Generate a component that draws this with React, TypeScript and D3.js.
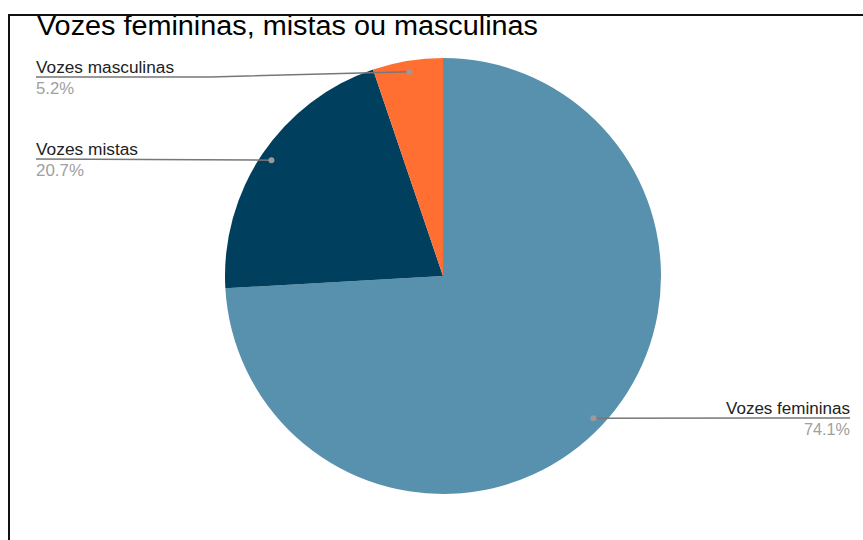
import React from "react";
import * as d3 from "d3";

const categories = ["Vozes femininas", "Vozes mistas", "Vozes masculinas"];
const values = [74.1, 20.7, 5.2];
const percentLabels = ["74.1%", "20.7%", "5.2%"];
const colors = ["#5891ad", "#00405e", "#ff6f31"];
const title = "Vozes femininas, mistas ou masculinas";

const W = 863;
const H = 540;
const cx = 443;
const cy = 276;
const R = 218;

const labelLayout = [
  { side: "right", x: 850, y: 414, lineY: 418, elbow: null as number | null, nameW: 124, pctW: 46 },
  { side: "left", x: 36, y: 155, lineY: 159, elbow: null as number | null, nameW: 102, pctW: 48 },
  { side: "left", x: 36, y: 73, lineY: 77, elbow: 210 as number | null, nameW: 138, pctW: 38 },
];

export default function App() {
  const pie = d3
    .pie<number>()
    .sort(null)
    .value((d) => d)
    .startAngle(0)
    .endAngle(2 * Math.PI);
  const arcs = pie(values);
  const arcGen = d3.arc<d3.PieArcDatum<number>>().innerRadius(0).outerRadius(R);
  const dotArc = d3.arc<d3.PieArcDatum<number>>().innerRadius(207).outerRadius(207);

  const font = "Arial, 'Liberation Sans', sans-serif";

  return (
    <svg
      width={W}
      height={H}
      style={{ position: "absolute", left: 0, top: 0, display: "block", background: "#fff" }}
    >
      <defs>
        <clipPath id="titleClip">
          <rect x={0} y={16} width={W} height={H} />
        </clipPath>
      </defs>
      <rect x={0} y={0} width={W} height={H} fill="#fff" />
      <text
        x={37}
        y={35}
        fontFamily={font}
        fontSize={27}
        fill="#000"
        textLength={501}
        lengthAdjust="spacingAndGlyphs"
        clipPath="url(#titleClip)"
      >
        {title}
      </text>
      <g transform={`translate(${cx},${cy})`}>
        {arcs.map((a, i) => (
          <path key={i} d={arcGen(a) || ""} fill={colors[i]} stroke="none" />
        ))}
      </g>
      {arcs.map((a, i) => {
        const [dx, dy] = dotArc.centroid(a);
        const px = cx + dx;
        const py = cy + dy;
        const L = labelLayout[i];
        let pts: [number, number][];
        if (L.side === "right") {
          pts = [
            [px, py],
            [L.x, L.lineY],
          ];
        } else if (L.elbow != null) {
          pts = [
            [L.x, L.lineY],
            [L.elbow, L.lineY],
            [px, py],
          ];
        } else {
          pts = [
            [L.x, L.lineY],
            [px, py],
          ];
        }
        const anchor = L.side === "right" ? "end" : "start";
        return (
          <g key={"l" + i}>
            <polyline
              points={pts.map((p) => p.join(",")).join(" ")}
              fill="none"
              stroke="#777"
              strokeWidth={1.5}
            />
            <circle cx={px} cy={py} r={3} fill="#9a9a9a" />
            <text
              x={L.x}
              y={L.y}
              textAnchor={anchor}
              fontFamily={font}
              fontSize={16}
              fill="#222"
              textLength={L.nameW}
              lengthAdjust="spacingAndGlyphs"
            >
              {categories[i]}
            </text>
            <text
              x={L.x}
              y={L.y + 21}
              textAnchor={anchor}
              fontFamily={font}
              fontSize={16.5}
              fill="#a0a0a0"
              textLength={L.pctW}
              lengthAdjust="spacingAndGlyphs"
            >
              {percentLabels[i]}
            </text>
          </g>
        );
      })}
      <line x1={8} y1={15} x2={W} y2={15} stroke="#111" strokeWidth={2} />
      <line x1={9} y1={14} x2={9} y2={H} stroke="#111" strokeWidth={2} />
    </svg>
  );
}
